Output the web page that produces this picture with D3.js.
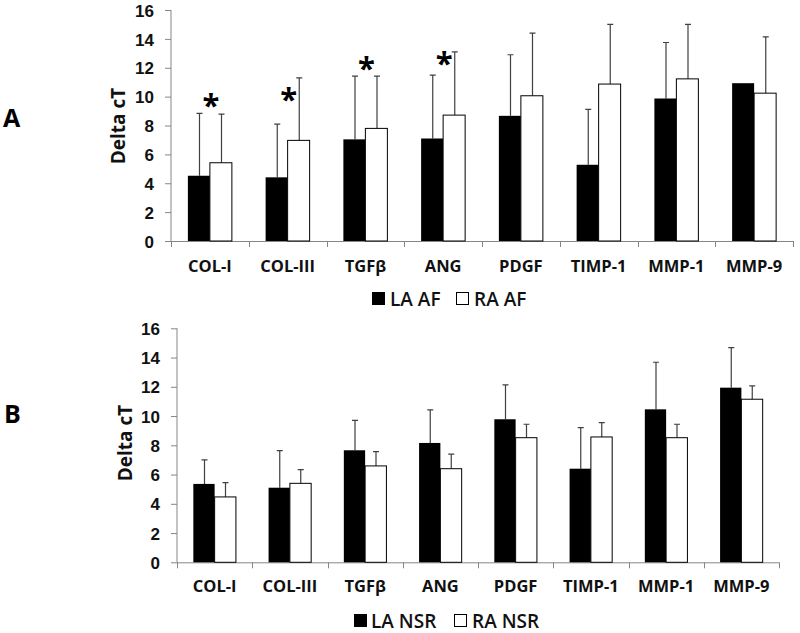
<!DOCTYPE html>
<html>
<head>
<meta charset="utf-8">
<script src="https://cdn.jsdelivr.net/npm/d3@7"></script>
<style>
  html, body { margin: 0; padding: 0; background: #fff; }
  svg { display: block; font-family: "Open Sans", "DejaVu Sans", sans-serif; }
</style>
</head>
<body>
<svg id="chart" width="800" height="633"></svg>
<script>
// ---------- data ----------
const categories = ["COL-I", "COL-III", "TGFβ", "ANG", "PDGF", "TIMP-1", "MMP-1", "MMP-9"];
const yTicks = [0, 2, 4, 6, 8, 10, 12, 14, 16];

// Panel A (AF)
const afLA    = [4.52, 4.41, 7.04, 7.10, 8.67, 5.28, 9.87, 10.93];
const afLAErr = [4.32, 3.69, 4.38, 4.39, 4.23, 3.83, 3.88, 0];
const afRA    = [5.42, 6.97, 7.80, 8.72, 10.06, 10.87, 11.23, 10.24];
const afRAErr = [3.37, 4.33, 3.62, 4.38, 4.34, 4.13, 3.77, 3.90];
const afSigCats = ["COL-I", "COL-III", "TGFβ", "ANG"];
const afSigY    = [9.76, 10.2, 12.3, 12.7];

// Panel B (NSR)
const nsrLA    = [5.36, 5.10, 7.66, 8.16, 9.78, 6.40, 10.46, 11.94];
const nsrLAErr = [1.64, 2.54, 2.05, 2.26, 2.35, 2.81, 3.22, 2.74];
const nsrRA    = [4.47, 5.40, 6.59, 6.40, 8.52, 8.57, 8.52, 11.15];
const nsrRAErr = [0.98, 0.94, 0.98, 0.99, 0.92, 0.98, 0.92, 0.91];

const seriesKeys = ["LA", "RA"];

// ---------- drawing ----------
const svg = d3.select("#chart");
const axisColor = "#868686";
const errColor = "#404040";
const textColor = "#111";

function drawPanel(p) {
  const g = svg.append("g");
  const x = d3.scaleBand().domain(categories).range([p.x0, p.x1]).padding(0);
  const xs = d3.scaleBand().domain(seriesKeys).range([0, x.bandwidth()]).paddingInner(0).paddingOuter(0.767);
  const y = d3.scaleLinear().domain([0, 16]).range([p.yBottom, p.yTop]);

  // y axis
  const yAxis = g.append("g").attr("transform", `translate(${p.x0},0)`)
    .call(d3.axisLeft(y).tickValues(yTicks).tickSize(6).tickPadding(10).tickFormat(d3.format("d")));
  yAxis.select(".domain").attr("stroke", axisColor).attr("d", `M0,${p.yBottom}V${p.yTop}`);
  yAxis.selectAll(".tick line").attr("stroke", axisColor);
  yAxis.selectAll(".tick text").attr("fill", textColor).style("font-size", "17px").style("font-weight", "700")
    .attr("dy", "0.36em").attr("x", p.tickLabelX - p.x0);

  // x axis line + boundary ticks
  const bounds = categories.map(c => x(c)).concat([p.x1]);
  g.append("line").attr("x1", p.x0).attr("x2", p.x1).attr("y1", p.yBottom + 0.5).attr("y2", p.yBottom + 0.5)
    .attr("stroke", axisColor);
  g.selectAll(".xtick").data(bounds).join("line")
    .attr("x1", d => Math.round(d) + 0.5).attr("x2", d => Math.round(d) + 0.5)
    .attr("y1", p.yBottom).attr("y2", p.yBottom + 6).attr("stroke", axisColor);
  g.selectAll(".xlab").data(categories).join("text")
    .attr("x", d => x(d) + x.bandwidth() / 2).attr("y", p.catY)
    .attr("text-anchor", "middle").attr("fill", textColor)
    .style("font-size", "16.5px").style("font-weight", "700").text(d => d);

  // bars
  const rows = categories.map((c, i) => ({
    c,
    vals: [
      { k: "LA", v: p.la[i], e: p.laErr[i] },
      { k: "RA", v: p.ra[i], e: p.raErr[i] }
    ]
  }));
  const grp = g.selectAll(".grp").data(rows).join("g").attr("transform", d => `translate(${x(d.c)},0)`);
  grp.selectAll(".err").data(d => d.vals.filter(v => v.e > 0)).join("path")
    .attr("d", d => {
      const cx = Math.round(xs(d.k) + xs.bandwidth() / 2) + 0.5;
      const top = y(d.v + d.e), base = y(d.v);
      return `M${cx},${base}V${top}M${cx - 3},${top}H${cx + 3}`;
    })
    .attr("stroke", errColor).attr("stroke-width", 1.2).attr("fill", "none");
  grp.selectAll(".bar").data(d => d.vals).join("rect")
    .attr("x", d => xs(d.k)).attr("width", xs.bandwidth())
    .attr("y", d => y(d.v)).attr("height", d => y(0) - y(d.v))
    .attr("fill", d => d.k === "LA" ? "#000" : "#fff")
    .attr("stroke", d => d.k === "LA" ? "none" : "#000").attr("stroke-width", 1);

  // significance asterisks
  if (p.sigCats) {
    g.selectAll(".sig").data(p.sigCats).join("text")
      .attr("x", d => x(d) + x.bandwidth() / 2 + 1)
      .attr("y", (d, i) => y(p.sigY[i]) + 16)
      .attr("text-anchor", "middle").attr("fill", "#000")
      .style("font-size", "31px").style("font-weight", "700").text("*");
  }

  // y title
  g.append("text").attr("transform", `translate(${p.titleX},${p.titleY}) rotate(-90)`)
    .attr("text-anchor", "middle").attr("fill", textColor)
    .style("font-size", "19px").style("font-weight", "700").text("Delta cT");

  // panel letter
  g.append("text").attr("x", p.letterX).attr("y", p.letterY).attr("fill", "#000")
    .style("font-size", "25px").style("font-weight", "700").text(p.letter);

  // legend
  const leg = g.append("g");
  p.legend.forEach((L, i) => {
    leg.append("rect").attr("x", L.sx + 0.5).attr("y", p.legY - 13.5).attr("width", 12).attr("height", 12)
      .attr("fill", i === 0 ? "#000" : "#fff").attr("stroke", "#000").attr("stroke-width", 1);
    leg.append("text").attr("x", L.tx).attr("y", p.legY).attr("fill", textColor)
      .style("font-size", "19px").style("font-weight", "600").text(L.label);
  });
}

drawPanel({
  x0: 171, x1: 793, yBottom: 241, yTop: 10, tickLabelX: 154,
  la: afLA, laErr: afLAErr, ra: afRA, raErr: afRAErr,
  sigCats: afSigCats, sigY: afSigY,
  catY: 272, titleX: 125, titleY: 126, letter: "A", letterX: 3, letterY: 127,
  legY: 306, legend: [{ sx: 372, tx: 390, label: "LA AF" }, { sx: 456, tx: 474, label: "RA AF" }]
});

drawPanel({
  x0: 177, x1: 779, yBottom: 562.3, yTop: 328.3, tickLabelX: 160,
  la: nsrLA, laErr: nsrLAErr, ra: nsrRA, raErr: nsrRAErr,
  catY: 592, titleX: 132, titleY: 443, letter: "B", letterX: 4, letterY: 423,
  legY: 628, legend: [{ sx: 354, tx: 371, label: "LA NSR" }, { sx: 454, tx: 472, label: "RA NSR" }]
});
</script>
</body>
</html>
